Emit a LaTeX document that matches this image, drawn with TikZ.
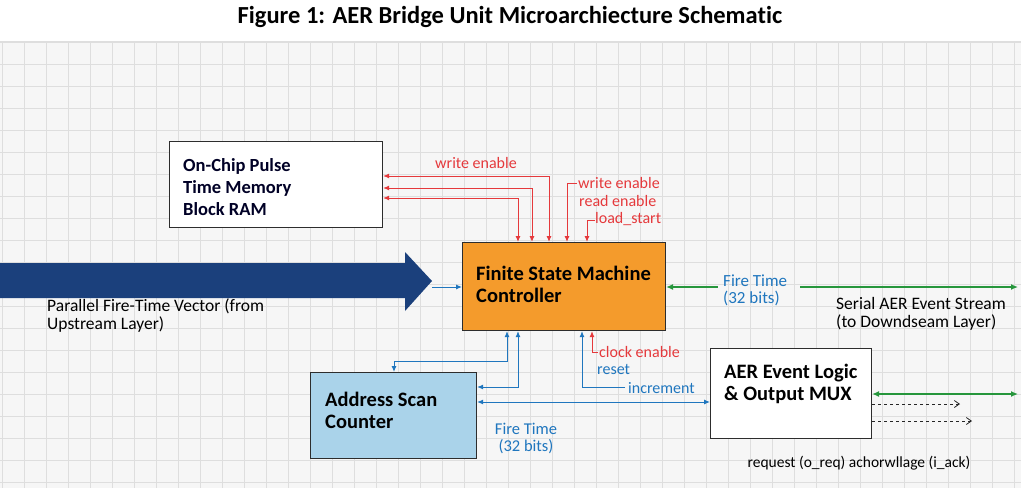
\documentclass[tikz,border=0pt]{standalone}
\usepackage{fontspec}
\setmainfont{Carlito}[Ligatures=NoCommon]
\usetikzlibrary{arrows.meta}
\definecolor{redc}{RGB}{229,57,60}
\definecolor{bluec}{RGB}{31,118,190}
\definecolor{greenc}{RGB}{38,150,60}
\definecolor{orangec}{RGB}{244,155,44}
\definecolor{lbluec}{RGB}{170,211,234}
\definecolor{navyc}{RGB}{27,64,124}
\definecolor{gridc}{RGB}{222,222,222}
\definecolor{gridbg}{RGB}{246,246,246}
\definecolor{boxline}{RGB}{45,45,45}
\begin{document}
\begin{tikzpicture}[x=1pt,y=-1pt,
  blockbox/.style={draw=boxline,line width=1.1pt,inner sep=0pt,anchor=north west},
  boxtext/.style={anchor=west,align=left,inner sep=0pt,font=\fontsize{20.5}{22}\selectfont\bfseries},
  lbl/.style={inner sep=0pt,font=\fontsize{16}{18}\selectfont},
  redline/.style={draw=redc,line width=1pt},
  blueline/.style={draw=bluec,line width=1pt},
  greenline/.style={draw=greenc,line width=1.3pt},
  tipr/.style={-{Latex[length=6pt,width=5pt]}},
  tiprr/.style={{Latex[length=6pt,width=5pt]}-{Latex[length=6pt,width=5pt]}},
]
\useasboundingbox (0,0) rectangle (1021,488);
\fill[white] (0,0) rectangle (1021,488);
\fill[gridbg] (0,42) rectangle (1021,488);
\foreach \xx in {2,24,...,1020} \draw[gridc,line width=0.8pt] (\xx,42) -- (\xx,488);
\foreach \yy in {64,86,...,487} \draw[gridc,line width=0.8pt] (0,\yy) -- (1021,\yy);
\draw[gridc,line width=1.2pt] (0,42) -- (1021,42);

% title
\node[inner sep=0pt,font=\fontsize{24.5}{28}\selectfont\bfseries] (title) at (510,17) {Figure 1: AER Bridge Unit Microarchiecture Schematic};

% big input arrow
\fill[navyc] (0,263) -- (405,263) -- (405,252) -- (432,281) -- (405,311) -- (405,298) -- (0,298) -- cycle;
\coordinate (bigtip) at (432,287);
\node[lbl,anchor=west,align=left,font=\fontsize{17.5}{18}\selectfont] (ptxt) at (47,316) {Parallel Fire-Time Vector (from\\Upstream Layer)};

% blocks
\node[blockbox,fill=white,minimum width=213pt,minimum height=86pt] (mem) at (169,141) {};
\node[boxtext,text=black!85!blue,font=\fontsize{18.5}{22}\selectfont\bfseries] (memt) at (183,187) {On-Chip Pulse\\Time Memory\\Block RAM};

\node[blockbox,fill=orangec,minimum width=203pt,minimum height=88pt] (fsm) at (462,242) {};
\node[boxtext] (fsmt) at (476,284) {Finite State Machine\\Controller};

\node[blockbox,fill=lbluec,minimum width=166pt,minimum height=86pt] (asc) at (310,372) {};
\node[boxtext] (asct) at (325,410) {Address Scan\\Counter};

\node[blockbox,fill=white,minimum width=161pt,minimum height=90pt] (aer) at (710,348) {};
\node[boxtext] (aert) at (724,384) {AER Event Logic\\\& Output MUX};

% input small arrow
\draw[blueline,tipr] (bigtip) -- (bigtip -| fsm.west);

% red control lines top
\draw[redline,tiprr] (mem.east |- 0,176) -- (549,176) -- (549,0 |- fsm.north);
\draw[redline,tiprr] (mem.east |- 0,188) -- (532,188) -- (532,0 |- fsm.north);
\draw[redline,tiprr] (mem.east |- 0,198) -- (518,198) -- (518,0 |- fsm.north);
\coordinate (we2) at (577,183);
\coordinate (ls) at (595,220);
\draw[redline,tipr] (we2) -- (567,183) -- (567,0 |- fsm.north);
\draw[redline,tipr] (ls) -- (587,220) -- (587,0 |- fsm.north);
\node[lbl,text=redc] (lwe1) at (476,163) {write enable};
\node[lbl,text=redc,anchor=west] (lwe2) at (578,183) {write enable};
\node[lbl,text=redc,anchor=west] (lre) at (579,201) {read enable};
\node[lbl,text=redc,anchor=west] (lls) at (595,219) {load\_start};

% bottom connections
\draw[blueline,tiprr] (394,0 |- asc.north) -- (394,361) -- (507,361) -- (507,0 |- fsm.south);
\draw[blueline,tiprr] (asc.east |- 0,387) -- (518,387) -- (518,0 |- fsm.south);
\coordinate (inc) at (625,387);
\draw[blueline,tipr] (inc) -- (582,387) -- (582,0 |- fsm.south);
\coordinate (ce) at (598,352);
\draw[redline,tipr] (ce) -- (592,352) -- (592,0 |- fsm.south);
\node[lbl,text=redc,anchor=west] (lce) at (599,352) {clock enable};
\node[lbl,text=bluec,anchor=west] (lrs) at (597,369) {reset};
\node[lbl,text=bluec,anchor=west] (linc) at (628,388) {increment};

\draw[blueline,tiprr] (asc.east |- 0,402) -- (aer.west |- 0,402);
\node[lbl,text=bluec,align=center,font=\fontsize{16.5}{17}\selectfont] (ft2) at (526,438) {Fire Time\\(32 bits)};

% green output
\coordinate (g1) at (718,287);
\coordinate (g2) at (800,287);
\coordinate (gend) at (1018,287);
\draw[greenline,{Latex[length=7pt,width=6pt]}-] (fsm.east |- g1) -- (g1);
\draw[greenline,-{Latex[length=7pt,width=6pt]}] (g2) -- (gend);
\node[lbl,text=bluec,anchor=west,align=left,font=\fontsize{17}{17}\selectfont] (ft1) at (723,290) {Fire Time\\(32 bits)};
\node[lbl,anchor=west,align=left,font=\fontsize{17.5}{18}\selectfont] (ser) at (836,314) {Serial AER Event Stream\\(to Downdseam Layer)};

\coordinate (g3) at (1018,394);
\draw[greenline,{Latex[length=7pt,width=6pt]}-{Latex[length=7pt,width=6pt]}] (aer.east |- g3) -- (g3);
\coordinate (d1) at (960,404);
\coordinate (d2) at (972,421);
\draw[black!85,line width=0.8pt,dashed,-{Straight Barb[length=5pt,width=7pt]}] (aer.east |- d1) -- (d1);
\draw[black!85,line width=0.8pt,dashed,-{Straight Barb[length=5pt,width=7pt]}] (aer.east |- d2) -- (d2);
\node[lbl,font=\fontsize{15.5}{16}\selectfont] (req) at (859,463) {request (o\_req) achorwllage (i\_ack)};
\end{tikzpicture}
\end{document}
